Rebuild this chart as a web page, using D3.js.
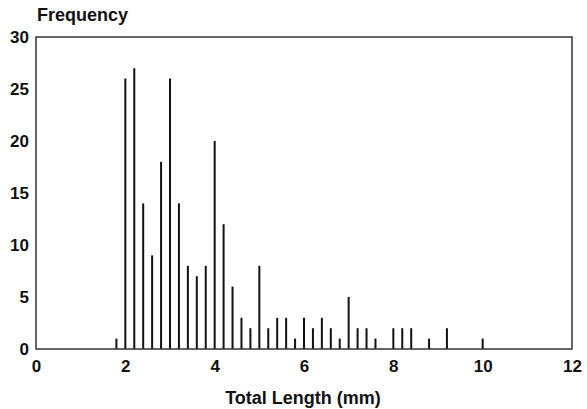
<!DOCTYPE html>
<html>
<head>
<meta charset="utf-8">
<script src="https://cdn.jsdelivr.net/npm/d3@7"></script>
<style>
  body { margin: 0; background: #fff; }
  text { font-family: "Liberation Sans", Arial, sans-serif; font-weight: bold; fill: #111; }
</style>
</head>
<body>
<div id="chart"></div>
<script>
// Bin centres (mm) and counts
let lengths = [1.8, 2.0, 2.2, 2.4, 2.6, 2.8, 3.0, 3.2, 3.4, 3.6, 3.8, 4.0, 4.2, 4.4, 4.6, 4.8,
  5.0, 5.2, 5.4, 5.6, 5.8, 6.0, 6.2, 6.4, 6.6, 6.8, 7.0, 7.2, 7.4, 7.6, 8.0, 8.2, 8.4, 8.8, 9.2, 10.0];
let counts = [1, 26, 27, 14, 9, 18, 26, 14, 8, 7, 8, 20, 12, 6, 3, 2,
  8, 2, 3, 3, 1, 3, 2, 3, 2, 1, 5, 2, 2, 1, 2, 2, 2, 1, 2, 1];
let xTicks = [0, 2, 4, 6, 8, 10, 12];
let yTicks = [0, 5, 10, 15, 20, 25, 30];

let svgWidth = 587;
let svgHeight = 409;

let margin = { top: 37, right: 15, bottom: 60, left: 36 };
let chartWidth = svgWidth - margin.left - margin.right;
let chartHeight = svgHeight - margin.top - margin.bottom;

let svg = d3.select("#chart")
  .append("svg")
  .attr("width", svgWidth)
  .attr("height", svgHeight);

let chartGroup = svg.append("g")
  .attr("transform", `translate(${margin.left}, ${margin.top})`);

let x = d3.scaleLinear().domain([0, 12]).range([0, chartWidth]);
let y = d3.scaleLinear().domain([0, 30]).range([chartHeight, 0]);

// bars (thin spikes)
chartGroup.selectAll(".bar")
  .data(lengths.map((d, i) => ({ len: d, n: counts[i] })))
  .enter()
  .append("line")
  .attr("class", "bar")
  .attr("x1", d => x(d.len))
  .attr("x2", d => x(d.len))
  .attr("y1", y(0))
  .attr("y2", d => y(d.n))
  .attr("stroke", "#111")
  .attr("stroke-width", 2);

// frame
chartGroup.append("rect")
  .attr("x", 0)
  .attr("y", 0)
  .attr("width", chartWidth)
  .attr("height", chartHeight)
  .attr("fill", "none")
  .attr("stroke", "#333")
  .attr("stroke-width", 1.5);

// axes
let bottomAxis = d3.axisBottom(x).tickValues(xTicks).tickSize(0).tickPadding(11);
let leftAxis = d3.axisLeft(y).tickValues(yTicks).tickSize(0).tickPadding(7);

let gx = chartGroup.append("g")
  .attr("transform", `translate(0, ${chartHeight})`)
  .call(bottomAxis);
let gy = chartGroup.append("g").call(leftAxis);

[gx, gy].forEach(g => {
  g.select(".domain").remove();
  g.selectAll("text")
    .style("font-family", "'Liberation Sans', Arial, sans-serif")
    .style("font-weight", "bold")
    .style("font-size", "17px")
    .attr("fill", "#111");
});

// axis titles
svg.append("text")
  .attr("x", 37)
  .attr("y", 21)
  .style("font-size", "18px")
  .text("Frequency");

svg.append("text")
  .attr("x", 303)
  .attr("y", 404)
  .attr("text-anchor", "middle")
  .style("font-size", "18px")
  .text("Total Length (mm)");
</script>
</body>
</html>
